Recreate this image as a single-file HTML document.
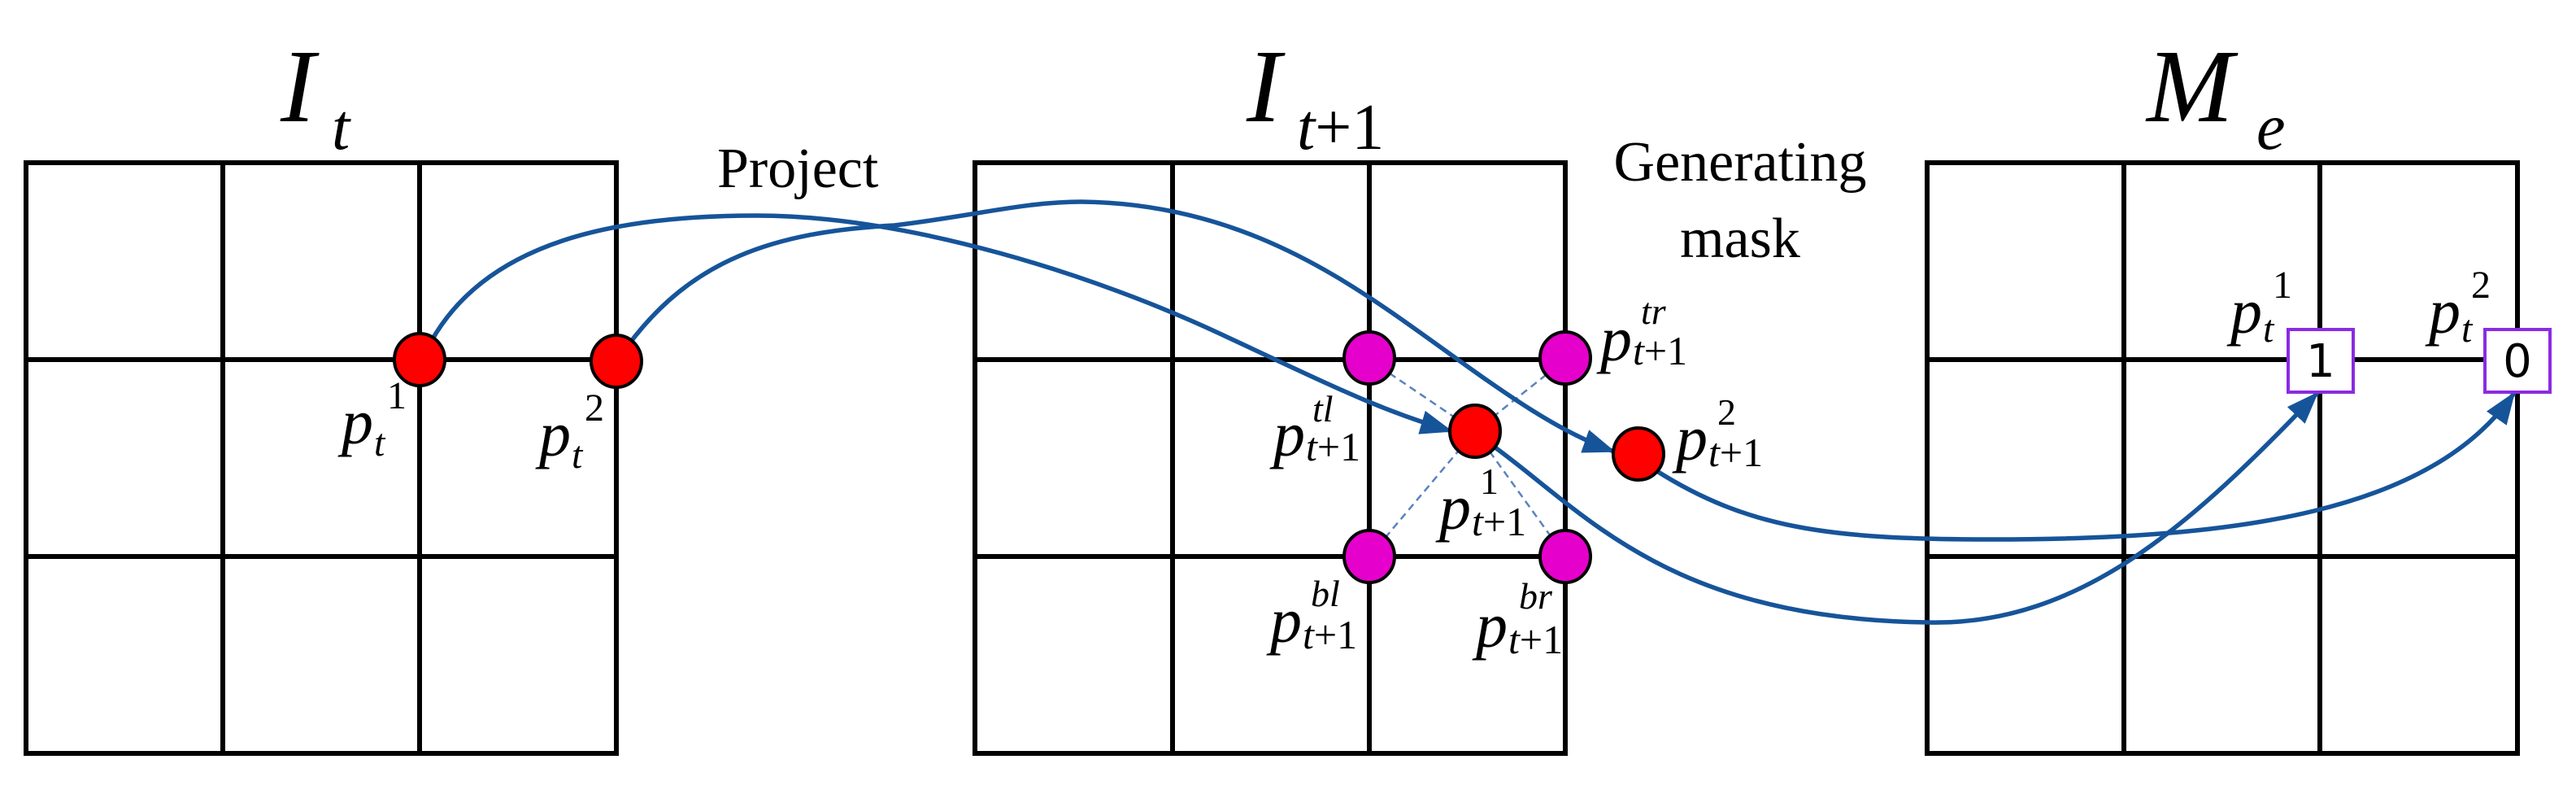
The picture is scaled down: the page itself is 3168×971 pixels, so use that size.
<!DOCTYPE html>
<html><head><meta charset="utf-8"><style>
html,body{margin:0;padding:0;background:#fff;}
svg{display:block;}
text{font-family:"Liberation Serif",serif;fill:#000;}
.it{font-style:italic;}
</style></head><body>
<svg width="3168" height="971" viewBox="0 0 3168 971" xmlns="http://www.w3.org/2000/svg">
<defs>
<marker id="ah" markerWidth="10" markerHeight="10" refX="9" refY="5" orient="auto" markerUnits="userSpaceOnUse" viewBox="0 0 10 10">
</marker>
<marker id="a" viewBox="0 0 40 30" refX="38" refY="15" markerWidth="40" markerHeight="30" orient="auto" markerUnits="userSpaceOnUse">
<path d="M0,0 L40,15 L0,30 Z" fill="#16549a"/>
</marker>
</defs>
<g stroke="#000" stroke-width="6" fill="none">
<rect x="32" y="200" width="726" height="726"/>
<line x1="274" y1="200" x2="274" y2="926"/><line x1="516" y1="200" x2="516" y2="926"/>
<line x1="32" y1="442" x2="758" y2="442"/><line x1="32" y1="684" x2="758" y2="684"/>
<rect x="1199" y="200" width="726" height="726"/>
<line x1="1442" y1="200" x2="1442" y2="926"/><line x1="1684" y1="200" x2="1684" y2="926"/>
<line x1="1199" y1="442" x2="1925" y2="442"/><line x1="1199" y1="684" x2="1925" y2="684"/>
<rect x="2370" y="200" width="726" height="726"/>
<line x1="2612" y1="200" x2="2612" y2="926"/><line x1="2853" y1="200" x2="2853" y2="926"/>
<line x1="2370" y1="442" x2="3096" y2="442"/><line x1="2370" y1="684" x2="3096" y2="684"/>
</g>
<g stroke="#5a82c0" stroke-width="2.5" stroke-dasharray="9,6" fill="none">
<line x1="1684" y1="442" x2="1814" y2="530"/><line x1="1925" y1="442" x2="1814" y2="530"/>
<line x1="1684" y1="684" x2="1814" y2="530"/><line x1="1925" y1="684" x2="1814" y2="530"/>
</g>
<g stroke="#16549a" stroke-width="5.5" fill="none">
<path d="M530,420 C600,295 760,265 930,265 C1120,265 1350,340 1500,410 S1700,505 1785,530" marker-end="url(#a)"/>
<path d="M772,425 C850,320 950,285 1100,277 C1200,265 1260,248 1330,248 C1500,250 1620,320 1720,390 S1900,525 1985,555" marker-end="url(#a)"/>
<path d="M1836,548 C1950,630 2050,760 2370,765 C2560,770 2700,640 2850,483" marker-end="url(#a)"/>
<path d="M2036,578 C2150,650 2250,663 2450,663 C2750,663 2990,630 3092,483" marker-end="url(#a)"/>
</g>
<g stroke="#000" stroke-width="4">
<ellipse cx="516" cy="442" rx="31" ry="32" fill="#f00"/>
<ellipse cx="758" cy="444" rx="31" ry="32" fill="#f00"/>
<ellipse cx="1684" cy="440" rx="31" ry="32" fill="#e600cc"/>
<ellipse cx="1925" cy="440" rx="31" ry="32" fill="#e600cc"/>
<ellipse cx="1684" cy="684" rx="31" ry="32" fill="#e600cc"/>
<ellipse cx="1925" cy="684" rx="31" ry="32" fill="#e600cc"/>
<ellipse cx="1814" cy="530" rx="31" ry="32" fill="#f00"/>
<ellipse cx="2015" cy="558" rx="31" ry="32" fill="#f00"/>
</g>
<g stroke="#8a2be2" stroke-width="4" fill="#fff">
<rect x="2814" y="405" width="80" height="77"/>
<rect x="3056" y="405" width="80" height="77"/>
</g>
<text x="2854" y="463" font-size="56" text-anchor="middle" style="font-family:'DejaVu Sans',sans-serif">1</text>
<text x="3096" y="463" font-size="56" text-anchor="middle" style="font-family:'DejaVu Sans',sans-serif">0</text>
<!-- titles -->
<text x="345" y="149" font-size="128" class="it">I</text><text x="408" y="183" font-size="80" class="it">t</text>
<text x="1533" y="149" font-size="128" class="it">I</text><text x="1595" y="183" font-size="80"><tspan class="it">t</tspan>+1</text>
<text x="2640" y="149" font-size="128" class="it">M</text><text x="2775" y="183" font-size="80" class="it">e</text>
<text x="882" y="230" font-size="70">Project</text>
<text x="2140" y="222" font-size="70" text-anchor="middle">Generating</text>
<text x="2140" y="316" font-size="70" text-anchor="middle">mask</text>
<!-- labels -->
<g font-size="78">
<text x="420" y="545" class="it">p</text><text x="460" y="560" font-size="48" class="it">t</text><text x="476" y="502" font-size="48">1</text>
<text x="663" y="560" class="it">p</text><text x="703" y="575" font-size="48" class="it">t</text><text x="719" y="517" font-size="48">2</text>
<text x="1968" y="443" class="it">p</text><text x="2008" y="448" font-size="50"><tspan class="it">t</tspan>+1</text><text x="2018" y="398" font-size="46" class="it">tr</text>
<text x="1566" y="560" class="it">p</text><text x="1606" y="566" font-size="50"><tspan class="it">t</tspan>+1</text><text x="1614" y="518" font-size="46" class="it">tl</text>
<text x="1770" y="650" class="it">p</text><text x="1810" y="658" font-size="50"><tspan class="it">t</tspan>+1</text><text x="1820" y="607" font-size="46">1</text>
<text x="1562" y="789" class="it">p</text><text x="1602" y="797" font-size="50"><tspan class="it">t</tspan>+1</text><text x="1612" y="745" font-size="46" class="it">bl</text>
<text x="1815" y="795" class="it">p</text><text x="1855" y="803" font-size="50"><tspan class="it">t</tspan>+1</text><text x="1868" y="748" font-size="46" class="it">br</text>
<text x="2061" y="565" class="it">p</text><text x="2101" y="573" font-size="50"><tspan class="it">t</tspan>+1</text><text x="2112" y="522" font-size="46">2</text>
<text x="2743" y="409" class="it">p</text><text x="2783" y="420" font-size="48" class="it">t</text><text x="2795" y="366" font-size="48">1</text>
<text x="2987" y="409" class="it">p</text><text x="3027" y="420" font-size="48" class="it">t</text><text x="3039" y="366" font-size="48">2</text>
</g>
</svg>
</body></html>
